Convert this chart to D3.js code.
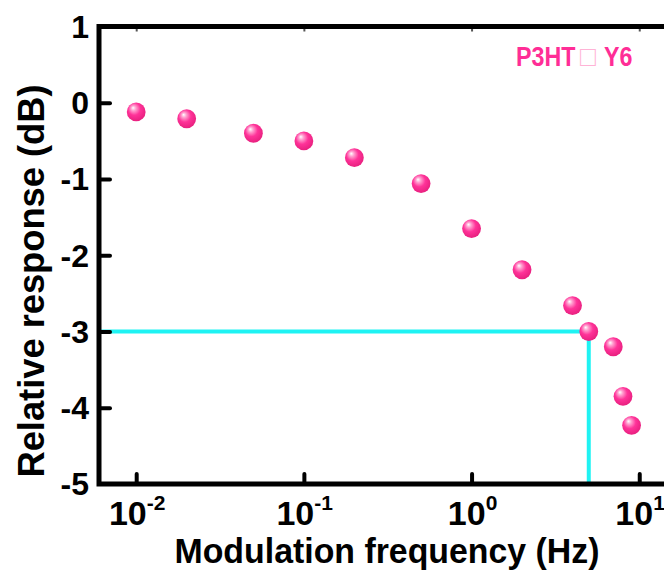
<!DOCTYPE html>
<html>
<head>
<meta charset="utf-8">
<script src="https://cdn.jsdelivr.net/npm/d3@7/dist/d3.min.js"></script>
<style>
  html, body { margin: 0; padding: 0; background: #ffffff; }
  svg { display: block; }
  text { font-family: "Liberation Sans", Arial, sans-serif; font-weight: bold; }
</style>
</head>
<body>
<svg id="chart" width="664" height="577"></svg>
<script>
// ---- data ----
const freq = [0.01, 0.02, 0.05, 0.1, 0.2, 0.5, 1, 2, 4, 5, 7, 8, 9];
const response = [-0.12, -0.21, -0.40, -0.50, -0.72, -1.06, -1.65, -2.19, -2.66, -3.0, -3.20, -3.85, -4.23];
const xDomain = [0.006, 17.5];
const yDomain = [-5, 1];
const xTickValues = [0.01, 0.1, 1, 10];
const xTickExponents = ["-2", "-1", "0", "1"];
const yTickValues = [-5, -4, -3, -2, -1, 0, 1];
const cutoffFreq = 5;
const cutoffLevel = -3;
const sampleLabel = ["P3HT", "\u25A1", "Y6"];
const xTitle = "Modulation frequency (Hz)";
const yTitle = "Relative response (dB)";

// ---- layout ----
const svg = d3.select("#chart");
const mLeft = 99, mRight = 680, mTop = 26.5, mBottom = 484;

const x = d3.scaleLog().domain(xDomain).range([mLeft, mRight]);
const y = d3.scaleLinear().domain(yDomain).range([mBottom, mTop]);

// gradient for shiny spheres
const defs = svg.append("defs");
const grad = defs.append("radialGradient")
  .attr("id", "ball").attr("cx", "45%").attr("cy", "40%").attr("r", "60%")
  .attr("fx", "33%").attr("fy", "28%");
grad.append("stop").attr("offset", "0%").attr("stop-color", "#ffffff");
grad.append("stop").attr("offset", "22%").attr("stop-color", "#ff9fcf");
grad.append("stop").attr("offset", "55%").attr("stop-color", "#ff3399");
grad.append("stop").attr("offset", "100%").attr("stop-color", "#e8207f");

// cutoff guide lines
const cyan = "#1ff3f3";
svg.append("line")
  .attr("x1", x(xDomain[0])).attr("x2", x(cutoffFreq))
  .attr("y1", y(cutoffLevel)).attr("y2", y(cutoffLevel))
  .attr("stroke", cyan).attr("stroke-width", 4);
svg.append("line")
  .attr("x1", x(cutoffFreq)).attr("x2", x(cutoffFreq))
  .attr("y1", y(cutoffLevel) - 2).attr("y2", y(yDomain[0]))
  .attr("stroke", cyan).attr("stroke-width", 4);

// bottom axis ticks (inward)
const xAxis = d3.axisBottom(x).tickValues(xTickValues).tickSizeInner(-10).tickSizeOuter(0).tickFormat("");
const gx = svg.append("g").attr("transform", `translate(0,${mBottom})`).call(xAxis);
gx.select(".domain").remove();
gx.selectAll(".tick line").attr("stroke", "#000").attr("stroke-width", 4).attr("stroke-linecap", "round");

// bottom tick labels with superscripts
const xl = svg.append("g").selectAll("text").data(xTickValues).join("text")
  .attr("x", d => x(d)).attr("y", mBottom + 41)
  .attr("text-anchor", "middle")
  .attr("font-size", 34)
  .attr("fill", "#000");
xl.append("tspan").text("10");
xl.append("tspan").attr("font-size", 21).attr("dy", -15).text((d, i) => xTickExponents[i]);
xl.attr("transform", function(d) {
  const bb = this.getBBox();
  return `translate(${(x(d) - (bb.x + bb.width / 2)) + 1},0)`;
});

// top axis tiny ticks
const xTop = d3.axisTop(x).tickValues(xTickValues).tickSizeInner(-5).tickSizeOuter(0).tickFormat("");
const gt = svg.append("g").attr("transform", `translate(0,${mTop})`).call(xTop);
gt.select(".domain").remove();
gt.selectAll(".tick line").attr("stroke", "#555").attr("stroke-width", 2);

// left axis
const yAxis = d3.axisLeft(y).tickValues(yTickValues).tickSizeInner(-11).tickSizeOuter(0).tickPadding(22)
  .tickFormat(d3.format("d"));
const gy = svg.append("g").attr("transform", `translate(${mLeft},0)`).call(yAxis);
gy.select(".domain").remove();
gy.selectAll(".tick text")
  .attr("font-family", "'Liberation Sans', Arial, sans-serif")
  .attr("font-weight", "bold").attr("font-size", 32).attr("fill", "#000")
  .attr("x", -10).attr("dy", "0.34em")
  .text(d => d < 0 ? "-" + Math.abs(d) : String(d));
gy.selectAll(".tick line").attr("stroke", "#000").attr("stroke-width", 4).attr("stroke-linecap", "round")
  .filter(d => d === 1 || d === -5).remove();

// frame
svg.append("path")
  .attr("d", `M${mRight},${mTop}H${mLeft}V${mBottom}H${mRight}`)
  .attr("fill", "none").attr("stroke", "#000").attr("stroke-width", 5).attr("stroke-linejoin", "miter");

// data points
svg.append("g").selectAll("circle").data(freq).join("circle")
  .attr("cx", d => x(d)).attr("cy", (d, i) => y(response[i]))
  .attr("r", 9.4).attr("fill", "url(#ball)");

// sample label (three parts, horizontally condensed)
const labelPink = "#ff2d96";
svg.append("text").attr("transform", "translate(516,65.5) scale(0.83,1)")
  .attr("font-size", 28).attr("fill", labelPink).text(sampleLabel[0]);
svg.append("text").attr("transform", "translate(580,66) scale(0.92,1)")
  .attr("font-size", 29).attr("fill", "#ffb3d6")
  .attr("font-weight", "normal").attr("font-family", "DejaVu Sans").text(sampleLabel[1]);
svg.append("text").attr("transform", "translate(604,65.5) scale(0.83,1)")
  .attr("font-size", 28).attr("fill", labelPink).text(sampleLabel[2]);

// axis titles
svg.append("text").attr("x", 387).attr("y", 563).attr("text-anchor", "middle")
  .attr("font-size", 35).attr("fill", "#000")
  .attr("textLength", 425).attr("lengthAdjust", "spacingAndGlyphs").text(xTitle);
svg.append("text").attr("transform", "translate(44,281) rotate(-90)").attr("text-anchor", "middle")
  .attr("font-size", 36).attr("fill", "#000")
  .attr("textLength", 393).attr("lengthAdjust", "spacingAndGlyphs").text(yTitle);
</script>
</body>
</html>
